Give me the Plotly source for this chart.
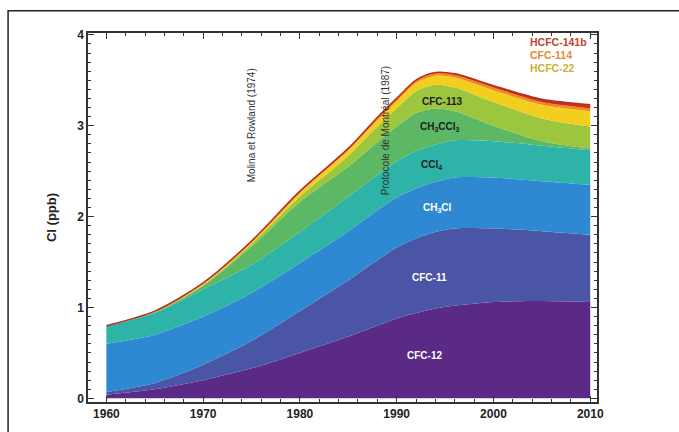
import plotly.graph_objects as go

# Equivalent chlorine contribution by species (ppb), stacked bottom to top
years = [1960, 1965, 1970, 1975, 1980, 1985, 1988, 1990, 1992, 1994, 1996, 2000, 2005, 2010]
cfc12 = [0.04, 0.10, 0.20, 0.33, 0.50, 0.68, 0.80, 0.88, 0.94, 0.99, 1.02, 1.06, 1.07, 1.06]
cfc11 = [0.03, 0.07, 0.17, 0.30, 0.46, 0.62, 0.72, 0.78, 0.82, 0.84, 0.85, 0.81, 0.77, 0.74]
ch3cl = [0.53, 0.53, 0.53, 0.53, 0.53, 0.54, 0.55, 0.55, 0.55, 0.55, 0.56, 0.56, 0.55, 0.55]
ccl4 = [0.20, 0.24, 0.30, 0.31, 0.34, 0.38, 0.39, 0.40, 0.41, 0.41, 0.41, 0.40, 0.39, 0.38]
ch3ccl3 = [0.00, 0.01, 0.04, 0.20, 0.33, 0.33, 0.36, 0.38, 0.42, 0.40, 0.32, 0.17, 0.05, 0.02]
cfc113 = [0.00, 0.00, 0.01, 0.03, 0.06, 0.12, 0.17, 0.20, 0.24, 0.26, 0.26, 0.26, 0.25, 0.24]
hcfc22 = [0.00, 0.005, 0.01, 0.02, 0.04, 0.06, 0.07, 0.08, 0.09, 0.10, 0.11, 0.13, 0.15, 0.17]
cfc114 = [0.00, 0.005, 0.01, 0.01, 0.02, 0.02, 0.03, 0.03, 0.03, 0.03, 0.03, 0.03, 0.03, 0.03]
hcfc141b = [0.0, 0.0, 0.0, 0.0, 0.0, 0.0, 0.0, 0.0, 0.002, 0.005, 0.01, 0.02, 0.03, 0.04]

series = [
    ("CFC-12", cfc12, "#5B2A86"),
    ("CFC-11", cfc11, "#4B55A5"),
    ("CH3Cl", ch3cl, "#2F88D2"),
    ("CCl4", ccl4, "#2DB3A8"),
    ("CH3CCl3", ch3ccl3, "#5DB865"),
    ("CFC-113", cfc113, "#9CC63E"),
    ("HCFC-22", hcfc22, "#F2CF1E"),
    ("CFC-114", cfc114, "#F08A1C"),
    ("HCFC-141b", hcfc141b, "#C8321E"),
]

FONT = "Arial, Liberation Sans, sans-serif"

fig = go.Figure()
for i, (name, vals, col) in enumerate(series):
    top = i == len(series) - 1
    fig.add_trace(go.Scatter(
        x=years, y=vals, name=name, stackgroup="cl", mode="lines",
        line=dict(width=1.6 if top else 0, color="#B5301E" if top else col, shape="spline", smoothing=0.8),
        fillcolor=col, hoverinfo="x+y+name",
    ))

# Species labels inside the bands
inner = [
    ("CFC-113", 1994.7, 3.27, "#1c1c1c"),
    ("CH<sub>3</sub>CCl<sub>3</sub>", 1994.5, 2.99, "#1c1c1c"),
    ("CCl<sub>4</sub>", 1993.6, 2.57, "#1c1c1c"),
    ("CH<sub>3</sub>Cl", 1994.2, 2.09, "white"),
    ("CFC-11", 1993.4, 1.33, "white"),
    ("CFC-12", 1992.9, 0.47, "white"),
]
annotations = [
    dict(x=x, y=y, text=f"<b>{t}</b>", showarrow=False, xanchor="center",
         font=dict(family=FONT, size=10, color=c))
    for t, x, y, c in inner
]

# Labels for the thin upper bands
for t, y, c in [("HCFC-141b", 3.92, "#C0442A"), ("CFC-114", 3.78, "#E88A30"), ("HCFC-22", 3.64, "#C9B234")]:
    annotations.append(dict(x=2003.6, y=y, text=f"<b>{t}</b>", showarrow=False, xanchor="left",
                            font=dict(family=FONT, size=10.5, color=c)))

# Historical milestones, written vertically
for t, x, y in [("Molina et Rowland (1974)", 1975.0, 3.0), ("Protocole de Montréal (1987)", 1988.8, 2.95)]:
    annotations.append(dict(x=x, y=y, text=t, textangle=-90, showarrow=False,
                            font=dict(family=FONT, size=10, color="#333")))

axis_common = dict(
    showline=True, linecolor="#333", linewidth=1.5, mirror="allticks",
    ticks="inside", ticklen=6, tickwidth=1.2, tickcolor="#333",
    showgrid=False, zeroline=False,
    tickfont=dict(family=FONT, size=12, color="#222"),
)

fig.update_layout(
    width=679, height=432,
    margin=dict(l=88, r=82, t=33, b=30),
    paper_bgcolor="white", plot_bgcolor="white",
    showlegend=False,
    xaxis=dict(range=[1958.1, 2010.7], tickvals=[1960, 1970, 1980, 1990, 2000, 2010],
               ticktext=["<b>1960</b>", "<b>1970</b>", "<b>1980</b>", "<b>1990</b>", "<b>2000</b>", "<b>2010</b>"],
               minor=dict(ticks="inside", dtick=2, tick0=1960, ticklen=3, tickcolor="#333"),
               **axis_common),
    yaxis=dict(range=[-0.04, 4.02], tickvals=[0, 1, 2, 3, 4],
               ticktext=["<b>0</b>", "<b>1</b>", "<b>2</b>", "<b>3</b>", "<b>4</b>"],
               minor=dict(ticks="inside", dtick=0.1, tick0=0, ticklen=3, tickcolor="#333"),
               title=dict(text="<b>Cl (ppb)</b>", font=dict(family=FONT, size=13, color="#222"), standoff=18),
               **axis_common),
    annotations=annotations,
    shapes=[dict(type="rect", xref="paper", yref="paper", x0=-0.157, x1=1.2, y0=-0.15, y1=1.06,
                 line=dict(color="#222", width=1.5), fillcolor="rgba(0,0,0,0)", layer="below")],
)

fig.write_html("out.html")
